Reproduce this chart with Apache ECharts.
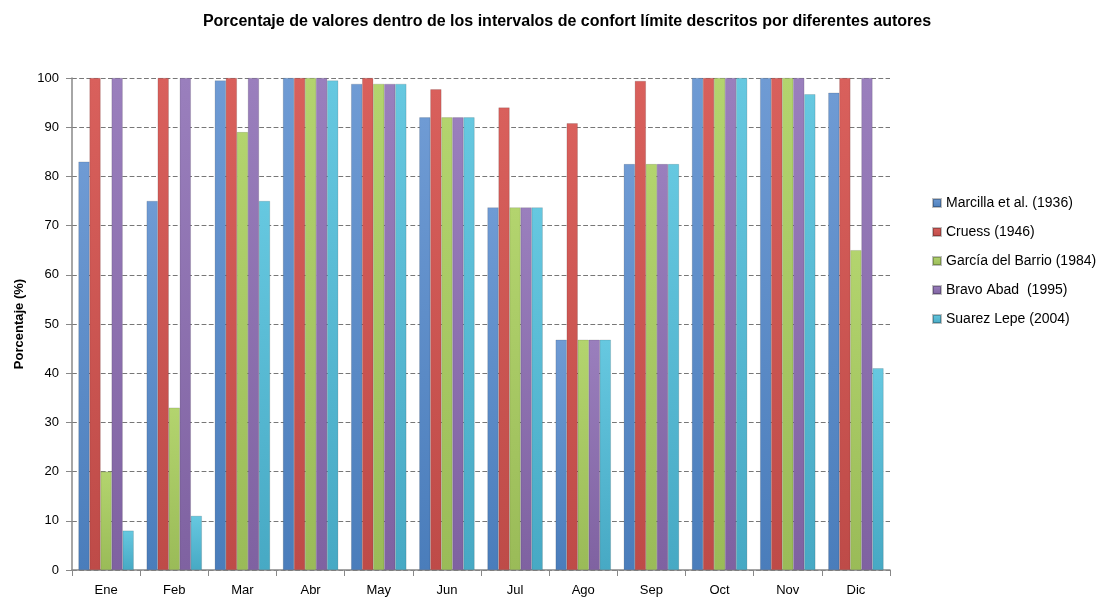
<!DOCTYPE html>
<html>
<head>
<meta charset="utf-8">
<script src="https://cdn.jsdelivr.net/npm/echarts@6/dist/echarts.min.js"></script>
<style>
  html, body { margin: 0; padding: 0; background: #fff; }
  #chart { width: 1103px; height: 603px; }
</style>
</head>
<body>
<div id="chart"></div>
<script>
// meses
const months = ['Ene', 'Feb', 'Mar', 'Abr', 'May', 'Jun', 'Jul', 'Ago', 'Sep', 'Oct', 'Nov', 'Dic']
const seriesNames = ['Marcilla et al. (1936)', 'Cruess (1946)', 'García del Barrio (1984)', 'Bravo Abad  (1995)', 'Suarez Lepe (2004)']

// valores (%)
const marcilla = [83, 75, 99.5, 100, 98.8, 92, 73.7, 46.8, 82.5, 100, 100, 97]
const cruess = [100, 100, 100, 100, 100, 97.7, 94, 90.8, 99.4, 100, 100, 100]
const garcia = [20, 33, 89, 100, 98.8, 92, 73.7, 46.8, 82.5, 100, 100, 65]
const bravo = [100, 100, 100, 100, 98.8, 92, 73.7, 46.8, 82.5, 100, 100, 100]
const suarez = [8, 11, 75, 99.5, 98.8, 92, 73.7, 46.8, 82.5, 100, 96.7, 41]
const yTicks = [0, 10, 20, 30, 40, 50, 60, 70, 80, 90, 100]

const colors = [
  ['#6f9bd4', '#4a7dbb'],
  ['#d9605c', '#be4b48'],
  ['#b3d46e', '#9abb58'],
  ['#9a7fbd', '#7f62a1'],
  ['#66c8e0', '#47a9c4'],
]

const allData = [marcilla, cruess, garcia, bravo, suarez]

const chart = echarts.init(document.getElementById('chart'))
chart.setOption({
  animation: false,
  textStyle: { fontFamily: 'Liberation Sans, Arial, sans-serif' },
  title: {
    text: 'Porcentaje de valores dentro de los intervalos de confort límite descritos por diferentes autores',
    left: 562,
    textAlign: 'center',
    top: 9,
    textStyle: { fontSize: 16, fontWeight: 'bold', color: '#000' },
  },
  legend: {
    orient: 'vertical',
    left: 927,
    top: 191,
    itemWidth: 8,
    itemHeight: 8,
    itemGap: 15,
    icon: 'rect',
    textStyle: { fontSize: 14, color: '#000' },
    data: seriesNames,
  },
  grid: { left: 72, right: 213, top: 78, bottom: 33 },
  xAxis: {
    type: 'category',
    data: months,
    axisLine: { lineStyle: { color: '#888', width: 1.5 } },
    axisTick: { show: true, length: 6, lineStyle: { color: '#888' } },
    axisLabel: { color: '#000', fontSize: 13, margin: 14 },
  },
  yAxis: {
    type: 'value',
    min: yTicks[0],
    max: yTicks[yTicks.length - 1],
    interval: 10,
    name: 'Porcentaje (%)',
    nameLocation: 'middle',
    nameGap: 46,
    nameTextStyle: { fontSize: 13, fontWeight: 'bold', color: '#000' },
    axisLine: { show: true, lineStyle: { color: '#888', width: 1.5 } },
    axisTick: { show: true, length: 6, lineStyle: { color: '#888' } },
    axisLabel: { color: '#000', fontSize: 13, margin: 13 },
    splitLine: { lineStyle: { color: '#777', type: 'dashed', width: 1.2 } },
  },
  series: seriesNames.map((name, i) => ({
    name,
    type: 'bar',
    data: allData[i],
    barGap: '0%',
    barCategoryGap: '19%',
    itemStyle: {
      color: new echarts.graphic.LinearGradient(0, 0, 0, 1, [
        { offset: 0, color: colors[i][0] },
        { offset: 1, color: colors[i][1] },
      ]),
      borderColor: 'rgba(0,0,0,0.25)',
      borderWidth: 0.5,
    },
  })),
})
</script>
</body>
</html>
